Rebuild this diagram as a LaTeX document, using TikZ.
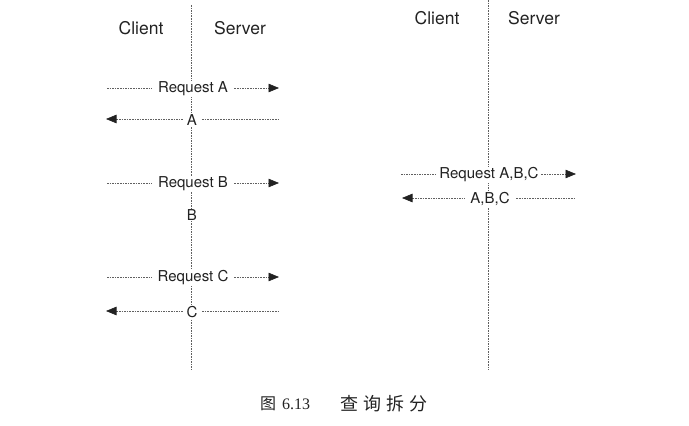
\documentclass[tikz,border=0pt]{standalone}
\usepackage{fontspec}
\setmainfont{TeX Gyre Heros}
\newfontfamily\cjk{Noto Sans CJK SC}
\newfontfamily\capserif{Liberation Serif}
\usetikzlibrary{arrows.meta}
\definecolor{txt}{HTML}{222222}
\definecolor{ln}{HTML}{606060}
\begin{document}
\begin{tikzpicture}[x=1pt,y=-1pt,
  lifeline/.style={draw=ln,line width=0.65pt,dash pattern=on 1.6pt off 1pt},
  msg/.style={draw=ln,line width=0.65pt,dash pattern=on 1.6pt off 1pt},
  tipcol/.style={arrows={-{Triangle[length=10.5pt,width=8.5pt,color=txt]}}},
  ltip/.style={arrows={{Triangle[length=10.5pt,width=8.5pt,color=txt]}-}},
  head/.style={text=txt,font=\fontsize{17.5}{20}\selectfont,inner sep=0pt},
  lbl/.style={text=txt,font=\fontsize{15}{17}\selectfont,fill=white,inner ysep=1pt,inner xsep=#1},
  lbl/.default=4pt,
  captext/.style={text=txt,inner sep=0pt}]
\useasboundingbox (0,0) rectangle (689,426);
% lifelines
\coordinate (lt) at (191,5);
\coordinate (lb) at (191,370);
\coordinate (rt) at (488,0);
\coordinate (rb) at (488,370);
\draw[lifeline] (lt) -- (lb);
\draw[lifeline] (rt) -- (rb);
% headers
\node[head] (lc) at (141,28) {Client};
\node[head] (ls) at (240,28) {Server};
\node[head] (rc) at (437,18) {Client};
\node[head] (rs) at (534,18) {Server};
% left messages
\coordinate (a1l) at (107,88);  \coordinate (a1r) at (279,88);
\coordinate (a2l) at (106,119); \coordinate (a2r) at (280,119);
\coordinate (b1l) at (107,183); \coordinate (b1r) at (279,183);
\coordinate (c1l) at (107,277); \coordinate (c1r) at (279,277);
\coordinate (c2l) at (106,311); \coordinate (c2r) at (280,311);
\draw[msg,tipcol] (a1l) -- (a1r);
\draw[msg,ltip] (a2l) -- (a2r);
\draw[msg,tipcol] (b1l) -- (b1r);
\draw[msg,tipcol] (c1l) -- (c1r);
\draw[msg,ltip] (c2l) -- (c2r);
\node[lbl=6pt] (ra) at (193,89) {Request A};
\node[lbl] (ansa) at (192,120) {A};
\node[lbl=6pt] (rb1) at (193,184) {Request B};
\node[lbl] (ansb) at (192,215) {B};
\node[lbl=6pt] (rc1) at (193,278) {Request C};
\node[lbl] (ansc) at (192,312) {C};
% right messages
\coordinate (d1l) at (401,174); \coordinate (d1r) at (576,174);
\coordinate (d2l) at (402,198); \coordinate (d2r) at (576,198);
\draw[msg,tipcol] (d1l) -- (d1r);
\draw[msg,ltip] (d2l) -- (d2r);
\node[lbl=2pt] (rabc) at (489,175) {Request A,B,C};
\node[lbl=5pt] (aabc) at (490,199) {A,B,C};
% caption
\node[captext] (cap1) at (285,404) {\cjk\fontsize{16}{18}\selectfont 图\hspace{6pt}{\capserif\fontsize{16}{18}\selectfont 6.13}};
\node[captext] (cap2) at (384,404) {\cjk\fontsize{18}{20}\selectfont 查\hspace{5pt}询\hspace{5pt}拆\hspace{5pt}分};
\end{tikzpicture}
\end{document}
